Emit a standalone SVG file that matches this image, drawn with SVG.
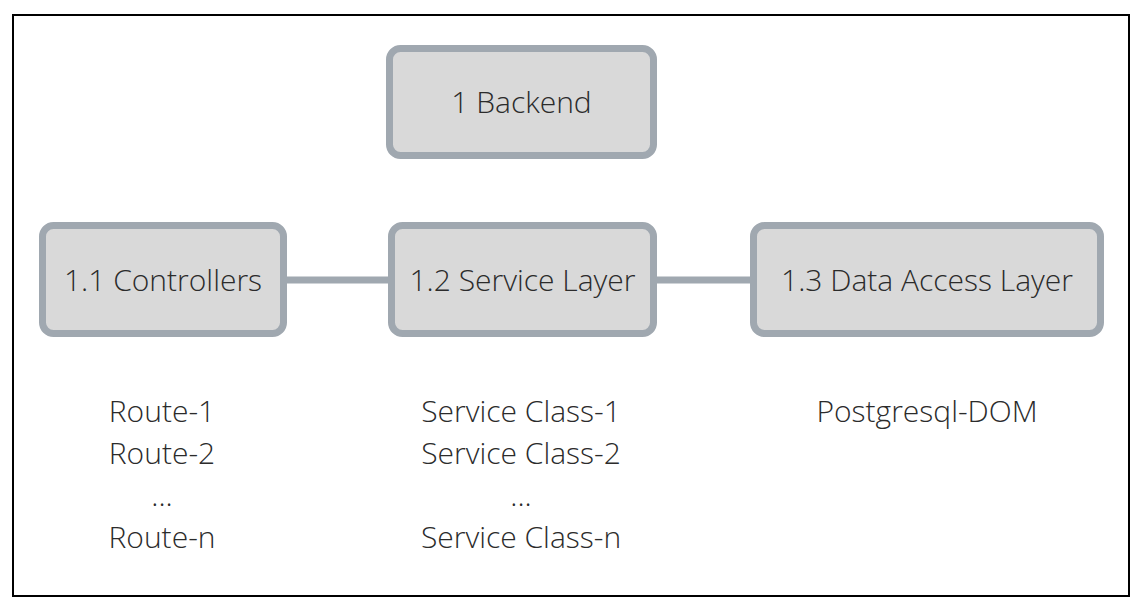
<svg xmlns="http://www.w3.org/2000/svg" width="1140" height="612" viewBox="0 0 1140 612">
<style>
.box{fill:#d9d9d9;stroke:#a0a8b0;stroke-width:7}
.lbl{font-family:"Open Sans","Liberation Sans",sans-serif;font-weight:300;font-size:30px;fill:#2b2b2b;text-anchor:middle}
.conn{stroke:#a0a8b0;stroke-width:7;fill:none}
</style>
<rect x="0" y="0" width="1140" height="612" fill="#ffffff"/>
<rect x="13" y="15" width="1116" height="581" fill="none" stroke="#000" stroke-width="2"/>
<g id="connectors">
<line class="conn" x1="287" y1="280" x2="388" y2="280"/>
<line class="conn" x1="657" y1="280" x2="750" y2="280"/>
</g>
<g id="backend">
<rect class="box" x="389.5" y="48.5" width="264" height="107" rx="11"/>
<text class="lbl" x="521.5" y="113">1 Backend</text>
</g>
<g id="controllers">
<rect class="box" x="42.5" y="225.5" width="241" height="108" rx="11"/>
<text class="lbl" x="163" y="291">1.1 Controllers</text>
</g>
<g id="service">
<rect class="box" x="391.5" y="225.5" width="262" height="108" rx="11"/>
<text class="lbl" x="522.5" y="291">1.2 Service Layer</text>
</g>
<g id="dataaccess">
<rect class="box" x="753.5" y="225.5" width="347" height="108" rx="11"/>
<text class="lbl" x="927" y="291">1.3 Data Access Layer</text>
</g>
<g id="routes">
<text class="lbl" x="162" y="422">Route-1</text>
<text class="lbl" x="162" y="464">Route-2</text>
<text class="lbl" x="162" y="506">...</text>
<text class="lbl" x="162" y="548">Route-n</text>
</g>
<g id="serviceclasses">
<text class="lbl" x="521" y="422">Service Class-1</text>
<text class="lbl" x="521" y="464">Service Class-2</text>
<text class="lbl" x="521" y="506">...</text>
<text class="lbl" x="521" y="548">Service Class-n</text>
</g>
<g id="postgres">
<text class="lbl" x="927" y="422">Postgresql-DOM</text>
</g>
</svg>
